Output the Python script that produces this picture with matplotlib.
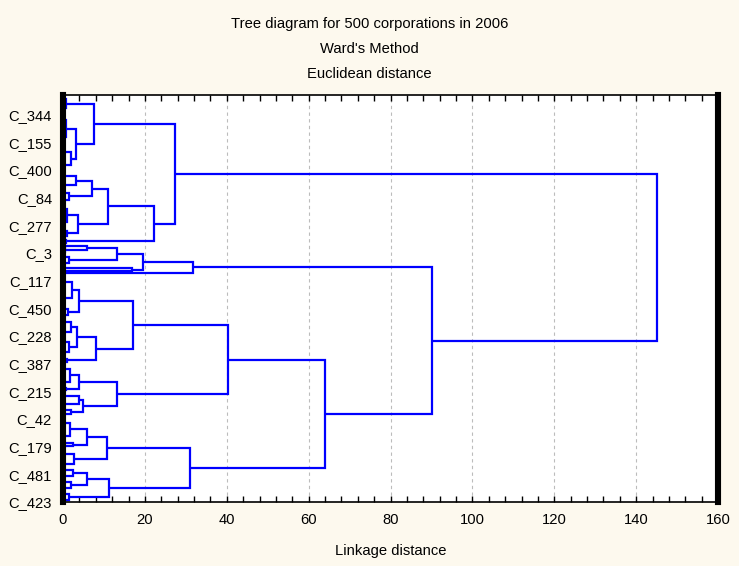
import matplotlib.pyplot as plt
from matplotlib.ticker import MultipleLocator

# leaf clusters: (height, left, right); a plain int is a clump of leaves at distance 0
branch_a1 = (7.6, (0.8, 10, 10), (3.2, (0.8, 21, 21), (2.0, 16, 16)))
branch_a2 = (22.1,
             (11.1, (7.0, (3.2, 11, 11), (1.5, 8, 8)),
                    (3.7, (1.0, 15, 16), (1.0, 6, 7))),
             (0.8, 3, 4))
branch_b1 = (31.7,
             (19.6, (13.1, (5.8, 3, (0.6, 4, 5)), (1.5, 7, 7)), (16.8, 6, 2)),
             3)
branch_b2a = (40.3,
              (17.1, (3.9, (2.2, 19, 20), (1.2, 7, 7)),
                     (8.0, (3.5, (2.0, 12, 12), (1.5, 12, 13)), (1.0, 3, 4))),
              (13.1, (3.9, (1.7, 15, 15), (0.8, 2, 3)),
                     (4.8, (4.0, 10, 11), (2.0, 4, 5))))
branch_b2b = (31.0,
              (10.8, (5.8, (1.7, 16, 16), (2.5, 3, 3)), (2.7, 16, 9)),
              (11.3, (5.9, (2.5, 7, 8), (2.0, 7, 7)), (1.5, 7, 7)))

height_a = 27.4
height_b2 = 64.0
height_b = 90.1
height_root = 145.0

n_cases = 500
label_step = 34
case_labels = ["C_344", "C_155", "C_400", "C_84", "C_277", "C_3", "C_117", "C_450",
               "C_228", "C_387", "C_215", "C_42", "C_179", "C_481", "C_423"]

tree = (height_root,
        (height_a, branch_a1, branch_a2),
        (height_b, branch_b1, (height_b2, branch_b2a, branch_b2b)))

LINE = "#0000ff"
FONT = "Liberation Sans"


def draw_node(ax, node, counter):
    # returns (y position, height) of the node
    if isinstance(node, int):
        start = counter[0]
        counter[0] += node
        return start + (node + 1) / 2, 0.0
    h, left, right = node
    yl, hl = draw_node(ax, left, counter)
    yr, hr = draw_node(ax, right, counter)
    ax.plot([hl, h, h, hr], [yl, yl, yr, yr], color=LINE, lw=1.6,
            solid_joinstyle="miter", solid_capstyle="butt")
    return (yl + yr) / 2, h


fig = plt.figure(figsize=(7.39, 5.66), dpi=100, facecolor="#fdf9ee")
ax = fig.add_axes([0.0853, 0.1131, 0.8863, 0.7191])
ax.set_facecolor("white")

draw_node(ax, tree, [0])

ax.set_xlim(0, 160)
ax.set_ylim(n_cases, 0)
ax.xaxis.set_major_locator(MultipleLocator(20))
ax.xaxis.set_minor_locator(MultipleLocator(4))
ax.grid(axis="x", which="major", color="#bcbcbc", lw=0.8, ls=(0, (3, 3)))
ax.set_axisbelow(True)

ytick_pos = [n_cases - label_step * k for k in range(len(case_labels))][::-1]
ax.set_yticks(ytick_pos)
ax.set_yticklabels(case_labels)

ax.tick_params(axis="x", which="both", direction="in", top=True, labeltop=False,
               length=4, width=1, pad=8, labelsize=10.6)
ax.tick_params(axis="y", length=0, pad=8, labelsize=10.6)

ax.spines["left"].set_linewidth(4.4)
ax.spines["right"].set_linewidth(4.4)
ax.spines["top"].set_linewidth(1.2)
ax.spines["bottom"].set_linewidth(1.2)

for lbl in ax.get_xticklabels() + ax.get_yticklabels():
    lbl.set_family(FONT)

ax.set_xlabel("Linkage distance", fontsize=10.6, family=FONT, labelpad=12)

titles = ["Tree diagram for 500 corporations in 2006", "Ward's Method", "Euclidean distance"]
for i, t in enumerate(titles):
    fig.text(0.5, 1 - (24 + 25 * i) / 566, t, ha="center", va="center",
             fontsize=10.6, family=FONT)

fig.savefig("out.png", dpi=100, facecolor=fig.get_facecolor())
